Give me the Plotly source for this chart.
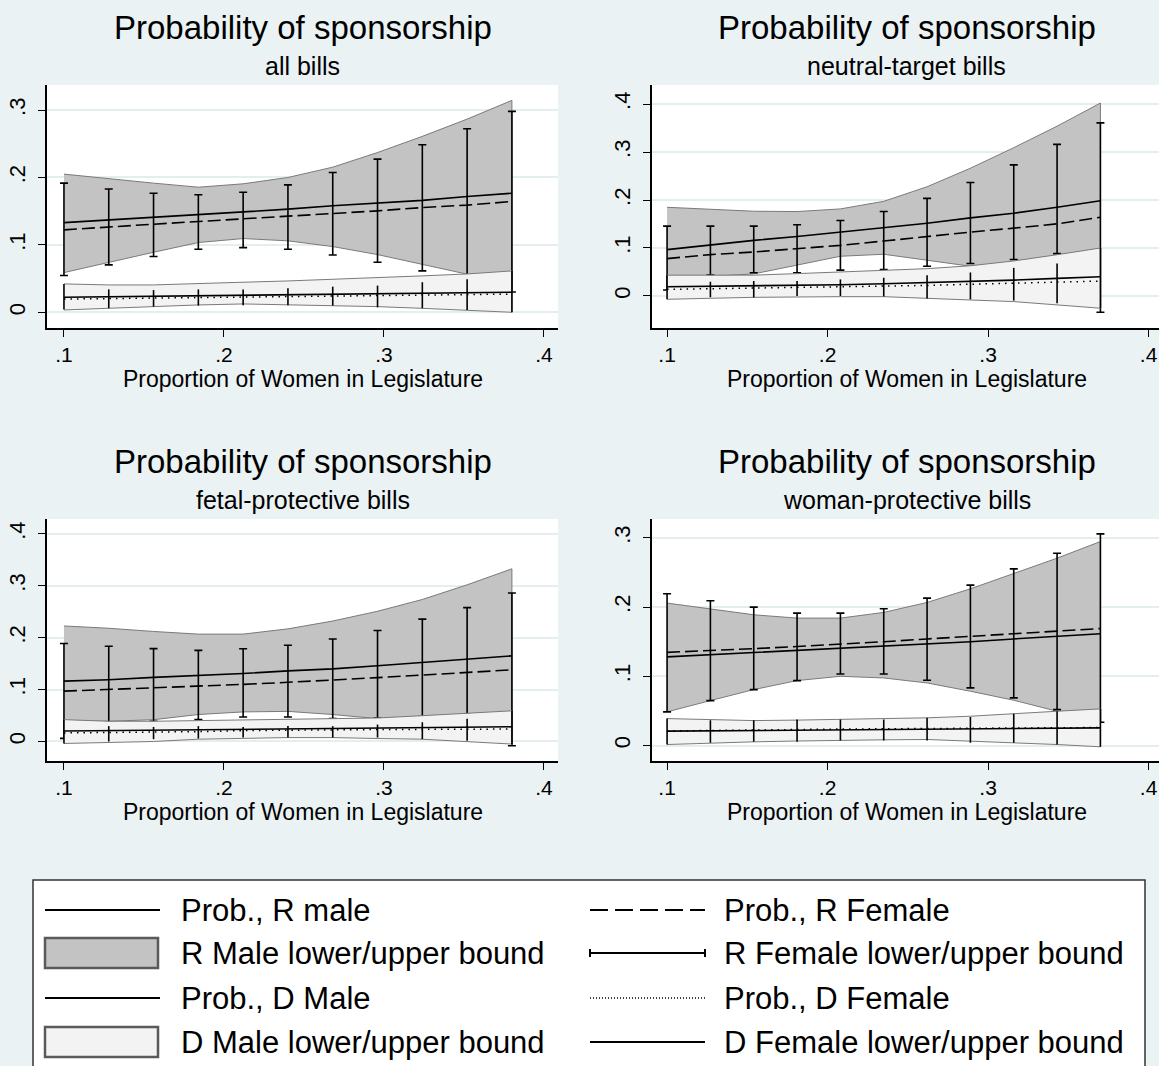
import plotly.graph_objects as go

W, H = 1159, 1066

# ---- evaluation points (proportion of women in legislature) ----
x_wide = [0.1, 0.128, 0.156, 0.184, 0.212, 0.24, 0.268, 0.296, 0.324, 0.352, 0.38]
x_narrow = [0.1, 0.127, 0.154, 0.181, 0.208, 0.235, 0.262, 0.289, 0.316, 0.343, 0.37]

# ---- all bills ----
all_r_male = [0.133, 0.137, 0.1406, 0.1446, 0.1485, 0.153, 0.158, 0.162, 0.166, 0.1718, 0.1767]
all_r_female = [0.1223, 0.126, 0.1307, 0.1347, 0.1386, 0.142, 0.146, 0.1505, 0.1554, 0.159, 0.1644]
all_r_male_lo = [0.0589, 0.0738, 0.0891, 0.1035, 0.1094, 0.106, 0.0975, 0.0856, 0.0713, 0.0569, 0.042]
all_r_male_hi = [0.205, 0.198, 0.1916, 0.1856, 0.1906, 0.2, 0.2153, 0.237, 0.261, 0.2866, 0.3144]
all_r_female_lo = [0.0545, 0.0703, 0.0827, 0.0936, 0.096, 0.0936, 0.0851, 0.0743, 0.0614, 0.045, 0.03]
all_r_female_hi = [0.1916, 0.183, 0.1767, 0.1743, 0.178, 0.189, 0.2074, 0.2272, 0.2485, 0.2723, 0.298]
all_d_male = [0.0223, 0.023, 0.0237, 0.0244, 0.0251, 0.0258, 0.0266, 0.0274, 0.0281, 0.0289, 0.0297]
all_d_female = [0.0196, 0.0203, 0.021, 0.0217, 0.0224, 0.0231, 0.0239, 0.0247, 0.0254, 0.0262, 0.027]
all_d_male_lo = [0.0035, 0.0059, 0.0084, 0.0109, 0.0124, 0.0109, 0.0099, 0.0084, 0.0059, 0.0035, 0.0]
all_d_male_hi = [0.0421, 0.0406, 0.0406, 0.0421, 0.0446, 0.0465, 0.049, 0.0505, 0.054, 0.0569, 0.0614]
all_d_female_lo = [0.004, 0.006, 0.0084, 0.0099, 0.0104, 0.0104, 0.0099, 0.0074, 0.006, 0.0035, 0.0]
all_d_female_hi = [0.042, 0.034, 0.033, 0.034, 0.034, 0.0356, 0.038, 0.0396, 0.0446, 0.049, 0.0614]

# ---- neutral-target bills ----
neu_r_male = [0.0966, 0.1069, 0.1159, 0.1241, 0.1331, 0.142, 0.1517, 0.1628, 0.1724, 0.1848, 0.1986]
neu_r_female = [0.0779, 0.0862, 0.0917, 0.0986, 0.1055, 0.1145, 0.1241, 0.1331, 0.1414, 0.1503, 0.1641]
neu_r_male_lo = [0.041, 0.041, 0.046, 0.064, 0.0828, 0.0869, 0.0745, 0.062, 0.06, 0.058, 0.056]
neu_r_male_hi = [0.1848, 0.1814, 0.1766, 0.1759, 0.1814, 0.1972, 0.2276, 0.2662, 0.309, 0.3538, 0.402]
neu_r_female_lo = [0.0124, 0.0434, 0.0483, 0.0483, 0.0538, 0.0552, 0.0621, 0.0676, 0.0759, 0.0883, -0.0338]
neu_r_female_hi = [0.1455, 0.1455, 0.1455, 0.1483, 0.1572, 0.1759, 0.2034, 0.2366, 0.2731, 0.3159, 0.3607]
neu_d_male = [0.0193, 0.02, 0.0207, 0.0214, 0.0235, 0.0255, 0.0275, 0.03, 0.033, 0.0366, 0.04]
neu_d_female = [0.0138, 0.015, 0.016, 0.0175, 0.019, 0.02, 0.022, 0.0245, 0.027, 0.029, 0.031]
neu_d_male_lo = [-0.0069, -0.0048, -0.0028, -0.0014, -0.0014, -0.0014, -0.0048, -0.0083, -0.0117, -0.0186, -0.0255]
neu_d_male_hi = [0.0434, 0.0434, 0.0434, 0.0466, 0.05, 0.0534, 0.0569, 0.063, 0.073, 0.086, 0.1]
neu_d_female_lo = [-0.0069, -0.0028, -0.003, 0.0, 0.0, -0.001, -0.005, -0.007, -0.0097, -0.015, -0.0255]
neu_d_female_hi = [0.0434, 0.0297, 0.031, 0.031, 0.0345, 0.038, 0.0434, 0.049, 0.0586, 0.0676, 0.1]

# ---- fetal-protective bills ----
fet_r_male = [0.1164, 0.119, 0.1235, 0.127, 0.131, 0.136, 0.14, 0.146, 0.152, 0.158, 0.165]
fet_r_female = [0.097, 0.1, 0.103, 0.107, 0.11, 0.114, 0.118, 0.123, 0.128, 0.133, 0.138]
fet_r_male_lo = [0.04, 0.039, 0.042, 0.052, 0.057, 0.058, 0.052, 0.044, 0.04, 0.04, 0.04]
fet_r_male_hi = [0.2226, 0.2182, 0.212, 0.2069, 0.2069, 0.217, 0.2321, 0.2509, 0.2736, 0.3019, 0.3327]
fet_r_female_lo = [0.006, 0.038, 0.039, 0.0421, 0.0472, 0.0472, 0.044, 0.045, 0.048, 0.0535, -0.0082]
fet_r_female_hi = [0.1887, 0.1836, 0.179, 0.1755, 0.1786, 0.1855, 0.1975, 0.2138, 0.2358, 0.2579, 0.2862]
fet_d_male = [0.0201, 0.0209, 0.0217, 0.0225, 0.0233, 0.0241, 0.0249, 0.0257, 0.0265, 0.0274, 0.0283]
fet_d_female = [0.0165, 0.017, 0.0175, 0.019, 0.021, 0.022, 0.022, 0.023, 0.0233, 0.0235, 0.024]
fet_d_male_lo = [-0.0038, -0.002, 0.0, 0.0044, 0.0057, 0.0075, 0.0075, 0.0057, 0.0044, 0.0, -0.005]
fet_d_male_hi = [0.0421, 0.039, 0.039, 0.04, 0.041, 0.042, 0.0434, 0.0453, 0.0497, 0.0547, 0.0591]
fet_d_female_lo = [-0.0038, 0.0, 0.0044, 0.0057, 0.0075, 0.0075, 0.0075, 0.0075, 0.0044, 0.0012, -0.005]
fet_d_female_hi = [0.0421, 0.0296, 0.028, 0.0296, 0.028, 0.0296, 0.0296, 0.0327, 0.0371, 0.044, 0.0591]

# ---- woman-protective bills ----
wom_r_male = [0.128, 0.131, 0.134, 0.137, 0.14, 0.1435, 0.147, 0.15, 0.154, 0.158, 0.1615]
wom_r_female = [0.1346, 0.137, 0.14, 0.143, 0.146, 0.15, 0.154, 0.158, 0.161, 0.165, 0.169]
wom_r_male_lo = [0.0486, 0.0649, 0.0808, 0.0938, 0.1, 0.0976, 0.0904, 0.0784, 0.0654, 0.0495, 0.035]
wom_r_male_hi = [0.2058, 0.1976, 0.1889, 0.1841, 0.1841, 0.1923, 0.2067, 0.2264, 0.2481, 0.2707, 0.2947]
wom_r_female_lo = [0.0486, 0.0649, 0.0808, 0.0938, 0.1034, 0.1034, 0.0942, 0.0832, 0.0688, 0.0519, 0.0337]
wom_r_female_hi = [0.2192, 0.2091, 0.2, 0.1913, 0.1913, 0.1976, 0.213, 0.2317, 0.2553, 0.2779, 0.3058]
wom_d_male = [0.0207, 0.0212, 0.0216, 0.0221, 0.0225, 0.023, 0.0235, 0.024, 0.0245, 0.025, 0.0255]
wom_d_female = [0.021, 0.0219, 0.0226, 0.0232, 0.0238, 0.0242, 0.0246, 0.025, 0.0254, 0.0257, 0.026]
wom_d_male_lo = [0.0014, 0.0034, 0.0053, 0.0065, 0.0077, 0.0082, 0.0087, 0.0062, 0.0038, 0.0014, -0.0019]
wom_d_male_hi = [0.0389, 0.0375, 0.036, 0.0367, 0.0375, 0.0387, 0.04, 0.0423, 0.0462, 0.0495, 0.0529]
wom_d_female_lo = [0.0014, 0.0038, 0.0053, 0.0053, 0.0072, 0.0072, 0.0072, 0.0038, 0.0038, 0.0014, -0.0019]
wom_d_female_hi = [0.0389, 0.0365, 0.0365, 0.0375, 0.0375, 0.0375, 0.04, 0.0413, 0.046, 0.0495, 0.0529]

titles = ["Probability of sponsorship"] * 4
subtitles = ["all bills", "neutral-target bills", "fetal-protective bills", "woman-protective bills"]
x_title = "Proportion of Women in Legislature"
x_ticks = [0.1, 0.2, 0.3, 0.4]
x_tick_labels = [".1", ".2", ".3", ".4"]
y_ticks = [[0, 0.1, 0.2, 0.3], [0, 0.1, 0.2, 0.3, 0.4], [0, 0.1, 0.2, 0.3, 0.4], [0, 0.1, 0.2, 0.3]]
y_tick_labels = ["0", ".1", ".2", ".3", ".4"]

legend_labels = [
    "Prob., R male", "Prob., R Female",
    "R Male lower/upper bound", "R Female lower/upper bound",
    "Prob., D Male", "Prob., D Female",
    "D Male lower/upper bound", "D Female lower/upper bound",
]

panels = [
    dict(x=x_wide, rm=all_r_male, rf=all_r_female, rm_lo=all_r_male_lo, rm_hi=all_r_male_hi,
         rf_lo=all_r_female_lo, rf_hi=all_r_female_hi, dm=all_d_male, df=all_d_female,
         dm_lo=all_d_male_lo, dm_hi=all_d_male_hi, df_lo=all_d_female_lo, df_hi=all_d_female_hi),
    dict(x=x_narrow, rm=neu_r_male, rf=neu_r_female, rm_lo=neu_r_male_lo, rm_hi=neu_r_male_hi,
         rf_lo=neu_r_female_lo, rf_hi=neu_r_female_hi, dm=neu_d_male, df=neu_d_female,
         dm_lo=neu_d_male_lo, dm_hi=neu_d_male_hi, df_lo=neu_d_female_lo, df_hi=neu_d_female_hi),
    dict(x=x_wide, rm=fet_r_male, rf=fet_r_female, rm_lo=fet_r_male_lo, rm_hi=fet_r_male_hi,
         rf_lo=fet_r_female_lo, rf_hi=fet_r_female_hi, dm=fet_d_male, df=fet_d_female,
         dm_lo=fet_d_male_lo, dm_hi=fet_d_male_hi, df_lo=fet_d_female_lo, df_hi=fet_d_female_hi),
    dict(x=x_narrow, rm=wom_r_male, rf=wom_r_female, rm_lo=wom_r_male_lo, rm_hi=wom_r_male_hi,
         rf_lo=wom_r_female_lo, rf_hi=wom_r_female_hi, dm=wom_d_male, df=wom_d_female,
         dm_lo=wom_d_male_lo, dm_hi=wom_d_male_hi, df_lo=wom_d_female_lo, df_hi=wom_d_female_hi),
]

# ---- styling ----
BG = "#EAF2F3"
GRID = "#E4EDF0"
R_FILL = "#C3C3C3"
D_FILL = "#F3F3F3"
BAND_EDGE = "#7A7A7A"
INK = "#000000"
FONT = "Liberation Sans, Arial, sans-serif"
LW = 1.6
DASH = "13px,5px"
DOT = "1.5px,5px"

# plot-area boxes in pixels: (left, right), (top, bottom)
boxes = [((47, 558), (85, 328)), ((651.5, 1159), (85, 328)),
         ((47, 558), (519, 761)), ((651.5, 1159), (519, 761))]
x_ranges = [(0.0894, 0.4088), (0.0903, 0.4065), (0.0894, 0.4088), (0.0903, 0.4065)]
y_ranges = [(-0.0233, 0.3372), (-0.0667, 0.4396), (-0.0376, 0.4287), (-0.0224, 0.3273)]


def fx(px):
    return px / W


def fy(py):
    return 1 - py / H


fig = go.Figure()

for i, p in enumerate(panels):
    n = i + 1
    xa, ya = f"x{n}" if n > 1 else "x", f"y{n}" if n > 1 else "y"
    x = p["x"]
    common = dict(xaxis=xa, yaxis=ya, hoverinfo="skip", showlegend=False)

    # Republican band, predicted lines and female interval caps
    fig.add_trace(go.Scatter(x=x + x[::-1], y=p["rm_hi"] + p["rm_lo"][::-1], mode="lines",
                             fill="toself", fillcolor=R_FILL,
                             line=dict(color=BAND_EDGE, width=1), **common))
    fig.add_trace(go.Scatter(x=x, y=p["rm"], mode="lines",
                             line=dict(color=INK, width=LW), **common))
    fig.add_trace(go.Scatter(x=x, y=p["rf"], mode="lines",
                             line=dict(color=INK, width=LW, dash=DASH), **common))
    fig.add_trace(go.Scatter(
        x=x, y=p["rf"], mode="markers", marker=dict(size=1, color="rgba(0,0,0,0)"),
        error_y=dict(type="data", symmetric=False,
                     array=[h - m for h, m in zip(p["rf_hi"], p["rf"])],
                     arrayminus=[m - l for m, l in zip(p["rf"], p["rf_lo"])],
                     width=4, thickness=LW, color=INK), **common))

    # Democratic band, predicted lines and female interval spikes
    fig.add_trace(go.Scatter(x=x + x[::-1], y=p["dm_hi"] + p["dm_lo"][::-1], mode="lines",
                             fill="toself", fillcolor=D_FILL,
                             line=dict(color=BAND_EDGE, width=1), **common))
    fig.add_trace(go.Scatter(x=x, y=p["df"], mode="lines",
                             line=dict(color=INK, width=1.5, dash=DOT), **common))
    fig.add_trace(go.Scatter(x=x, y=p["dm"], mode="lines",
                             line=dict(color=INK, width=LW), **common))
    fig.add_trace(go.Scatter(
        x=x, y=p["df"], mode="markers", marker=dict(size=1, color="rgba(0,0,0,0)"),
        error_y=dict(type="data", symmetric=False,
                     array=[h - m for h, m in zip(p["df_hi"], p["df"])],
                     arrayminus=[m - l for m, l in zip(p["df"], p["df_lo"])],
                     width=0, thickness=LW, color=INK), **common))

layout = dict(
    width=W, height=H, margin=dict(l=0, r=0, t=0, b=0),
    paper_bgcolor=BG, plot_bgcolor="white", showlegend=False,
    font=dict(family=FONT, color=INK),
)

annotations = []
for i in range(4):
    n = i + 1
    (l, r), (t, b) = boxes[i]
    xk = "xaxis" if n == 1 else f"xaxis{n}"
    yk = "yaxis" if n == 1 else f"yaxis{n}"
    layout[xk] = dict(
        domain=[fx(l), min(fx(r), 1.0)], range=list(x_ranges[i]),
        anchor="y" if n == 1 else f"y{n}",
        showline=True, linecolor=INK, linewidth=1.5, mirror=False,
        ticks="outside", ticklen=7, tickwidth=1.3, tickcolor=INK,
        tickvals=x_ticks, ticktext=x_tick_labels, tickfont=dict(size=21, family=FONT),
        ticklabelstandoff=0,
        showgrid=False, zeroline=False,
    )
    yt = y_ticks[i]
    layout[yk] = dict(
        domain=[fy(b), fy(t)], range=list(y_ranges[i]),
        anchor="x" if n == 1 else f"x{n}",
        showline=True, linecolor=INK, linewidth=1.5,
        ticks="outside", ticklen=7, tickwidth=1.3, tickcolor=INK,
        tickvals=yt, ticktext=y_tick_labels[:len(yt)], tickangle=-90,
        tickfont=dict(size=22, family=FONT), ticklabelstandoff=4,
        showgrid=True, gridcolor=GRID, gridwidth=1.5, zeroline=False,
    )
    cx = (l + (r if r < 1159 else 1162)) / 2
    annotations.append(dict(text=titles[i], x=fx(cx), y=fy(t - 58), xref="paper", yref="paper",
                            xanchor="center", yanchor="middle", showarrow=False,
                            font=dict(size=33, family=FONT)))
    annotations.append(dict(text=subtitles[i], x=fx(cx), y=fy(t - 19), xref="paper", yref="paper",
                            xanchor="center", yanchor="middle", showarrow=False,
                            font=dict(size=25, family=FONT)))
    annotations.append(dict(text=x_title, x=fx(cx), y=fy(b + 51), xref="paper", yref="paper",
                            xanchor="center", yanchor="middle", showarrow=False,
                            font=dict(size=23, family=FONT)))

# ---- legend (two columns, filled row by row) ----
shapes = [dict(type="rect", xref="paper", yref="paper", x0=fx(33), x1=fx(1145),
               y0=fy(1080), y1=fy(880), line=dict(color="#333333", width=1.5),
               fillcolor="white", layer="below")]
row_y = [910, 953, 998, 1042]
col_key = [(45, 160), (590, 705)]
col_text = [179, 722]
for k, label in enumerate(legend_labels):
    row, col = divmod(k, 2)
    yy = row_y[row]
    k0, k1 = col_key[col]
    if label.endswith("lower/upper bound") and col == 0:
        fill = R_FILL if label.startswith("R") else D_FILL
        shapes.append(dict(type="rect", xref="paper", yref="paper", x0=fx(k0), x1=fx(k1 - 2),
                           y0=fy(yy + 15), y1=fy(yy - 15), fillcolor=fill,
                           line=dict(color="#5A5A5A", width=2.5)))
    else:
        dash = "solid"
        if label == "Prob., R Female":
            dash = "18px,7px"
        elif label == "Prob., D Female":
            dash = "1px,2px"
        shapes.append(dict(type="line", xref="paper", yref="paper", x0=fx(k0), x1=fx(k1),
                           y0=fy(yy), y1=fy(yy),
                           line=dict(color=INK, width=1.3 if dash == "1px,2px" else 2, dash=dash)))
        if label == "R Female lower/upper bound":
            for xe in (k0, k1):
                shapes.append(dict(type="line", xref="paper", yref="paper", x0=fx(xe), x1=fx(xe),
                                   y0=fy(yy - 4), y1=fy(yy + 4), line=dict(color=INK, width=2)))
    annotations.append(dict(text=label, x=fx(col_text[col]), y=fy(yy), xref="paper", yref="paper",
                            xanchor="left", yanchor="middle", showarrow=False,
                            font=dict(size=31, family=FONT)))

layout["annotations"] = annotations
layout["shapes"] = shapes
fig.update_layout(**layout)

fig.write_html("out.html")
